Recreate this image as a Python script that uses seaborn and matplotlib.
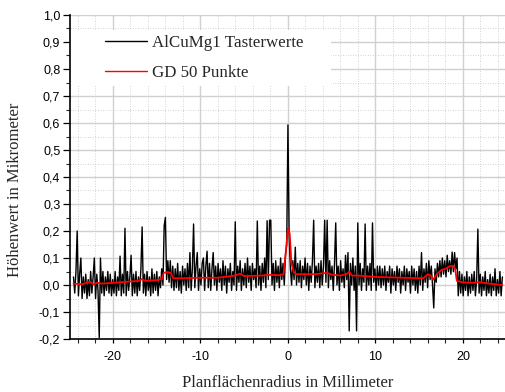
import numpy as np
import pandas as pd
import matplotlib
matplotlib.use("Agg")
import matplotlib.pyplot as plt
import seaborn as sns
from matplotlib.ticker import MultipleLocator, FuncFormatter
from matplotlib.patches import Rectangle

# ---- data ----
# black series: measured values, sampled every 0.14 mm from -24.5 mm
x_start = -24.5
x_step = 0.14
seg_a = [0.03, -0.03, 0.05, 0.20, -0.04, 0.04, 0.10, -0.05, 0.03, -0.03,
         0.04, -0.05, 0.02, -0.04, 0.05, -0.03, 0.03, 0.10, -0.05, 0.04,
         -0.02, -0.195, 0.10, -0.03, 0.05, -0.04, 0.03, -0.02, 0.05, -0.03,
         0.04, -0.04, 0.02, -0.03, 0.05, -0.04, 0.03, -0.02, 0.107, -0.04,
         0.04, -0.03, 0.21, -0.04, 0.05, -0.02, 0.03, 0.11, -0.04, 0.04]
seg_b = [-0.03, 0.05, -0.04, 0.03, -0.02, 0.06, 0.215, -0.03, 0.04, -0.04,
         0.05, -0.02, 0.03, -0.04, 0.06, -0.03, 0.04, -0.02, 0.05, -0.04,
         0.03, -0.01, 0.06, 0.00, 0.22, 0.25, 0.02, 0.09, 0.01, 0.09,
         -0.01, 0.07, -0.02, 0.06, -0.01, 0.08, -0.02, 0.05, -0.03, 0.07,
         0.00, 0.06, -0.02, 0.08, -0.01, 0.12, -0.02, 0.06, 0.226, -0.01]
seg_c = [0.07, 0.12, -0.02, 0.06, 0.00, 0.08, 0.10, -0.02, 0.07, 0.125,
         -0.01, 0.08, -0.02, 0.06, 0.12, 0.00, 0.07, -0.02, 0.08, 0.01,
         0.06, -0.02, 0.09, 0.00, 0.07, -0.03, 0.06, 0.01, 0.08, -0.02,
         0.05, 0.00, 0.234, -0.02, 0.07, 0.01, 0.09, -0.02, 0.06, 0.00,
         0.08, -0.01, 0.10, 0.01, 0.07, -0.02, 0.08, 0.02, 0.06, -0.01]
seg_d = [0.237, 0.00, 0.07, -0.02, 0.08, 0.01, 0.10, -0.01, 0.238, 0.02,
         0.24, 0.24, 0.00, 0.08, -0.02, 0.09, 0.01, 0.07, -0.01, 0.10,
         0.02, 0.08, 0.00, 0.11, 0.15, 0.593, 0.18, 0.06, 0.00, 0.09,
         0.02, 0.14, 0.00, 0.08, 0.01, 0.09, -0.01, 0.07, 0.02, 0.10,
         0.00, 0.08, -0.02, 0.07, 0.01, 0.09, 0.24, -0.01, 0.07, 0.01]
seg_e = [0.08, -0.01, 0.09, 0.00, 0.07, 0.24, 0.01, 0.24, -0.01, 0.09,
         0.02, 0.07, -0.02, 0.08, 0.23, 0.00, 0.07, -0.02, 0.09, 0.01,
         0.06, -0.01, 0.11, 0.02, 0.12, -0.17, 0.08, 0.00, 0.10, -0.02,
         0.07, -0.17, 0.23, 0.00, 0.08, -0.02, 0.06, 0.01, 0.226, -0.02,
         0.07, 0.00, 0.08, -0.02, 0.23, 0.01, 0.06, -0.02, 0.07, 0.00]
seg_f = [0.07, -0.01, 0.06, 0.00, 0.07, -0.02, 0.05, 0.01, 0.07, -0.03,
         0.06, 0.00, 0.05, -0.02, 0.07, 0.01, 0.06, -0.03, 0.05, 0.00,
         0.07, -0.02, 0.06, 0.01, 0.05, -0.03, 0.07, 0.00, 0.06, -0.02,
         0.05, -0.03, 0.07, 0.00, 0.12, -0.02, 0.06, 0.01, 0.08, -0.01,
         0.09, 0.02, 0.07, 0.00, -0.085, 0.06, 0.01, 0.08, 0.03, 0.09]
seg_g = [0.03, 0.10, 0.04, 0.09, 0.03, 0.11, 0.05, 0.09, 0.04, 0.122,
         0.05, 0.12, 0.06, 0.10, -0.04, 0.05, -0.03, 0.04, -0.04, 0.03,
         -0.02, 0.05, -0.04, 0.03, -0.03, 0.04, -0.02, 0.05, -0.04, 0.02,
         0.207, -0.03, 0.04, -0.04, 0.03, -0.02, 0.05, -0.04, 0.02, -0.03,
         0.04, -0.04, 0.03, -0.02, 0.06, -0.04, 0.02, -0.03, 0.05, -0.04,
         0.03]

# red series: smoothed curve (GD 50 Punkte)
gd_x = [-24.5, -23.5, -22.6, -22.2, -21.8, -21.3, -20.0, -18.0, -17.0, -16.7,
        -16.3, -15.0, -14.4, -14.2, -13.8, -13.4, -13.1, -12.0, -10.0, -8.0,
        -6.0, -5.5, -5.0, -3.0, -2.0, -1.0, -0.5, -0.25, 0.0, 0.2,
        0.4, 0.7, 1.0, 2.0, 3.0, 4.5, 5.0, 6.0, 6.8, 7.0,
        7.3, 8.0, 10.0, 12.0, 14.0, 15.0, 15.5, 16.0, 16.3, 16.6,
        17.0, 17.5, 18.0, 18.5, 18.9, 19.1, 19.3, 20.0, 21.0, 22.0,
        23.0, 24.5]
gd_y = [0.005, 0.003, 0.012, 0.002, 0.008, 0.005, 0.008, 0.013, 0.015, 0.022,
        0.015, 0.018, 0.022, 0.045, 0.048, 0.045, 0.025, 0.025, 0.027, 0.027,
        0.035, 0.042, 0.033, 0.035, 0.038, 0.036, 0.040, 0.120, 0.210, 0.190,
        0.080, 0.045, 0.040, 0.040, 0.040, 0.045, 0.038, 0.035, 0.042, 0.050,
        0.035, 0.035, 0.030, 0.028, 0.026, 0.025, 0.026, 0.040, 0.035, 0.020,
        0.040, 0.055, 0.060, 0.070, 0.070, 0.060, 0.015, 0.010, 0.008, 0.010,
        0.005, 0.000]

label_raw = "AlCuMg1 Tasterwerte"
label_gd = "GD 50 Punkte"
xlabel = "Planflächenradius in Millimeter"
ylabel = "Höhenwert in Mikrometer"

# ---- build frames ----
raw_y = seg_a + seg_b + seg_c + seg_d + seg_e + seg_f + seg_g
raw_x = x_start + x_step * np.arange(len(raw_y))
df_raw = pd.DataFrame({"x": raw_x, "y": raw_y})
df_gd = pd.DataFrame({"x": gd_x, "y": gd_y})

sns.set_style("white")
serif = "Liberation Serif"
sans = "Liberation Sans"

fig = plt.figure(figsize=(5.05, 3.92), dpi=100)
ax = fig.add_axes([70 / 505, 53 / 392, 435 / 505, 324 / 392])
ax.set_axisbelow(True)

sns.lineplot(data=df_raw, x="x", y="y", ax=ax, color="black", linewidth=1.0,
             estimator=None, sort=False, label=label_raw, zorder=3)
sns.lineplot(data=df_gd, x="x", y="y", ax=ax, color="#ff0000", linewidth=1.3,
             estimator=None, sort=False, label=label_gd, zorder=4)

ax.set_xlim(-24.9, 24.8)
ax.set_ylim(-0.2, 1.0)

ax.xaxis.set_major_locator(MultipleLocator(10))
ax.xaxis.set_minor_locator(MultipleLocator(2))
ax.yaxis.set_major_locator(MultipleLocator(0.1))
ax.yaxis.set_minor_locator(MultipleLocator(0.05))
ax.xaxis.set_major_formatter(FuncFormatter(lambda v, p: f"{int(round(v))}"))


def yfmt(v, p):
    s = f"{v:.1f}".replace(".", ",")
    if s == "-0,0":
        s = "0,0"
    return s


ax.yaxis.set_major_formatter(FuncFormatter(yfmt))

ax.grid(which="major", color="#d0d0d0", linewidth=1.0, linestyle="-")
ax.grid(which="minor", color="#c4c4c4", linewidth=0.6, linestyle=(0, (1, 2)))

for s in ["top", "right"]:
    ax.spines[s].set_visible(False)
for s in ["left", "bottom"]:
    ax.spines[s].set_color("black")
    ax.spines[s].set_linewidth(1.2)

ax.tick_params(axis="y", which="major", direction="out", length=5, width=0.9,
               left=True, pad=2, labelsize=9, colors="black")
ax.tick_params(axis="y", which="minor", direction="out", length=2.8, width=0.8,
               left=True)
ax.tick_params(axis="x", which="major", direction="out", length=3, width=0.9,
               bottom=True, pad=6, labelsize=9, colors="black")
ax.tick_params(axis="x", which="minor", direction="out", length=3, width=0.8,
               bottom=True)
for lab in ax.get_xticklabels() + ax.get_yticklabels():
    lab.set_fontfamily(sans)

ax.set_xlabel(xlabel, fontfamily=serif, fontsize=12)
ax.set_ylabel(ylabel, fontfamily=serif, fontsize=12)
ax.xaxis.set_label_coords(0.5, -0.111)
ax.yaxis.set_label_coords(-0.108, 0.46)

# white area behind the legend
ax.add_patch(Rectangle((0, 0.781), 0.6, 0.173, transform=ax.transAxes,
                       facecolor="white", edgecolor="none", zorder=1))

leg = ax.legend(loc="upper left", bbox_to_anchor=(0.0805, 0.938),
                frameon=False, borderpad=0, borderaxespad=0,
                handlelength=2.5, handletextpad=0.3, labelspacing=0.8,
                prop={"family": serif, "size": 12.2})
for h in leg.get_lines():
    h.set_linewidth(1.0)

fig.savefig("out.png", dpi=100)
